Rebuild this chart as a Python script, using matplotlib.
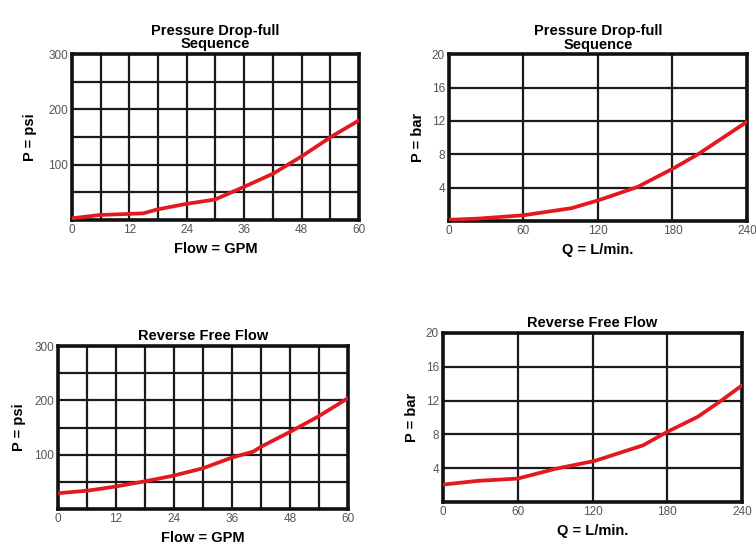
import numpy as np
import matplotlib.pyplot as plt

plt.rcParams['font.family'] = ['Liberation Sans', 'DejaVu Sans']

# --- data ---
gpm_pd = [0, 5.7, 14.9, 17.8, 23.8, 29.9, 36, 42.1, 48.2, 54.3, 60]
psi_pd = [3, 9, 12, 19, 29, 37, 60, 84, 116, 151, 180]

lpm_pd = [0, 23.6, 60, 98.7, 121.5, 152, 180.5, 200.5, 240]
bar_pd = [0.15, 0.3, 0.7, 1.55, 2.55, 4.1, 6.3, 8.0, 11.9]

gpm_rf = [0, 6.3, 12, 17.8, 23.7, 30, 36, 40.4, 42.1, 48, 53.8, 60]
psi_rf = [29, 34, 41.5, 50.7, 61, 75, 94.7, 105.7, 115, 142, 170, 204]

lpm_rf = [0, 27.9, 60, 89.5, 122, 160.5, 180, 204.7, 223.4, 240]
bar_rf = [2.06, 2.5, 2.77, 3.9, 4.87, 6.7, 8.3, 10.1, 12.0, 13.8]

gpm_ticks = [0, 12, 24, 36, 48, 60]
psi_ticks = [100, 200, 300]
lpm_ticks = [0, 60, 120, 180, 240]
bar_ticks = [4, 8, 12, 16, 20]

RED = '#e3191f'

fig = plt.figure(figsize=(7.56, 5.5), dpi=100)


def make_panel(rect, x, y, xmax, ymax, xstep, ystep, xt, yt, title, xlab, ylab, ypad):
    ax = fig.add_axes(rect)
    ax.plot(x, y, color=RED, lw=2.7, solid_capstyle='round', zorder=3)
    ax.set_xlim(0, xmax)
    ax.set_ylim(0, ymax)
    ax.set_xticks(xt)
    ax.set_yticks(yt)
    ax.set_xticks(np.arange(0, xmax + 0.1, xstep), minor=True)
    ax.set_yticks(np.arange(0, ymax + 0.1, ystep), minor=True)
    ax.grid(True, which='both', color='#1a1a1a', lw=1.6)
    ax.tick_params(which='both', length=0, labelsize=8.5, labelcolor='#555555', pad=3)
    for s in ax.spines.values():
        s.set_linewidth(2.6)
        s.set_color('#111111')
    ax.set_title(title, fontsize=10.5, fontweight='bold', pad=4, linespacing=0.95)
    ax.set_xlabel(xlab, fontsize=10.5, fontweight='bold', labelpad=4)
    ax.set_ylabel(ylab, fontsize=10.5, fontweight='bold', labelpad=ypad)
    return ax


make_panel([0.0952, 0.600, 0.3796, 0.3018], gpm_pd, psi_pd, 60, 300, 6, 50,
           gpm_ticks, psi_ticks, 'Pressure Drop-full\nSequence', 'Flow = GPM', 'P = psi', 8)
make_panel([0.5939, 0.598, 0.3942, 0.3036], lpm_pd, bar_pd, 240, 20, 60, 4,
           lpm_ticks, bar_ticks, 'Pressure Drop-full\nSequence', 'Q = L/min.', 'P = bar', 5)
make_panel([0.0767, 0.0745, 0.3836, 0.2964], gpm_rf, psi_rf, 60, 300, 6, 50,
           gpm_ticks, psi_ticks, 'Reverse Free Flow', 'Flow = GPM', 'P = psi', 6)
make_panel([0.586, 0.0873, 0.3955, 0.3073], lpm_rf, bar_rf, 240, 20, 60, 4,
           lpm_ticks, bar_ticks, 'Reverse Free Flow', 'Q = L/min.', 'P = bar', 5)

fig.savefig('out.png', dpi=100)
